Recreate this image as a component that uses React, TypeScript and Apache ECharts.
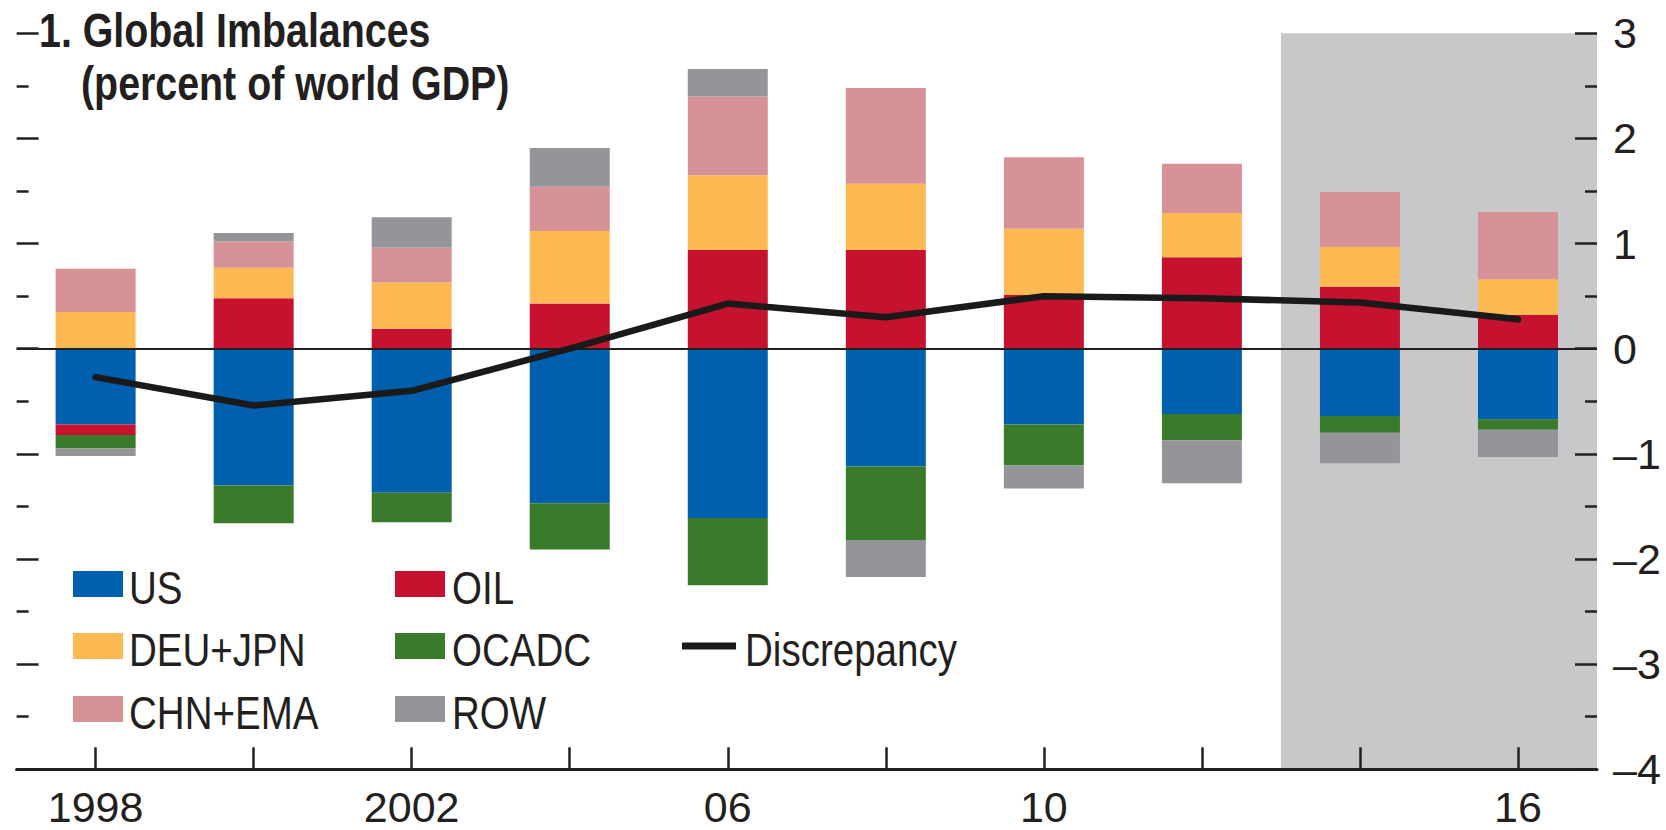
import React, { useEffect, useRef } from "react";
import * as echarts from "echarts";

// ---- data (percent of world GDP) ----
const years = ["1998", "2000", "2002", "2004", "2006", "2008", "2010", "2012", "2014", "2016"];
const yearLabels = ["1998", "", "2002", "", "06", "", "10", "", "", "16"];
const projectionFirstYear = "2014";

const us = [-0.72, -1.3, -1.37, -1.47, -1.61, -1.12, -0.72, -0.62, -0.64, -0.67];
const oil = [-0.1, 0.48, 0.19, 0.43, 0.94, 0.94, 0.51, 0.87, 0.59, 0.32];
const deuJpn = [0.35, 0.29, 0.44, 0.69, 0.71, 0.63, 0.63, 0.42, 0.38, 0.34];
const ocadc = [-0.13, -0.36, -0.28, -0.44, -0.64, -0.7, -0.39, -0.25, -0.16, -0.1];
const chnEma = [0.41, 0.25, 0.33, 0.42, 0.75, 0.91, 0.68, 0.47, 0.52, 0.64];
const row = [-0.07, 0.08, 0.29, 0.37, 0.26, -0.35, -0.22, -0.41, -0.29, -0.26];
const discrepancy = [-0.27, -0.54, -0.4, 0.0, 0.43, 0.3, 0.5, 0.48, 0.44, 0.28];

const yMin = -4;
const yMax = 3;
const yStep = 1;

const titleLine1 = "1. Global Imbalances";
const titleLine2 = "(percent of world GDP)";

// legend order as laid out: [name, column, row]
const legendLayout: [string, number, number][] = [
  ["US", 0, 0],
  ["OIL", 1, 0],
  ["DEU+JPN", 0, 1],
  ["OCADC", 1, 1],
  ["Discrepancy", 2, 1],
  ["CHN+EMA", 0, 2],
  ["ROW", 1, 2],
];

// ---- styles ----
const INK = "#231f20";
const SANS = "'Liberation Sans', Arial, Helvetica, sans-serif";
const CONDENSE = 0.82;

const COLORS: Record<string, string> = {
  US: "#0060ae",
  OIL: "#c5122f",
  "DEU+JPN": "#fdba53",
  OCADC: "#3a7b2b",
  "CHN+EMA": "#d69297",
  ROW: "#939598",
  Discrepancy: "#1a1a1a",
};

const barSeries: [string, number[]][] = [
  ["US", us],
  ["OIL", oil],
  ["DEU+JPN", deuJpn],
  ["OCADC", ocadc],
  ["CHN+EMA", chnEma],
  ["ROW", row],
];

export default function App() {
  const ref = useRef<HTMLDivElement>(null);

  useEffect(() => {
    if (!ref.current) return;
    const chart = echarts.init(ref.current, null, { renderer: "svg" });

    const tickStyle = { color: INK, width: 2.5 };

    // legend drawn as graphic swatches + condensed text
    const rowY = [584, 646, 709];
    const swatchX = [73, 395, 682];
    const textX = [129, 452, 745];
    const legendElements: any[] = [];
    legendLayout.forEach(([name, c, r]) => {
      const isLine = name === "Discrepancy";
      const w = isLine ? 54 : 50;
      const h = isLine ? 7 : 26;
      legendElements.push({
        type: "rect",
        silent: true,
        shape: { x: swatchX[c], y: rowY[r] - h / 2, width: w, height: h },
        style: { fill: COLORS[name] },
      });
      legendElements.push({
        type: "text",
        silent: true,
        x: textX[c],
        y: rowY[r] + 4,
        scaleX: CONDENSE,
        style: {
          text: name,
          fill: INK,
          fontFamily: SANS,
          fontSize: 47,
          align: "left",
          verticalAlign: "middle",
        },
      });
    });

    const titleStyle = {
      fill: INK,
      fontFamily: SANS,
      fontWeight: "bold",
      fontSize: 48,
      align: "left",
      verticalAlign: "middle",
    };
    const titleElements = [
      { type: "text", silent: true, x: 39, y: 30, scaleX: CONDENSE, style: { text: titleLine1, ...titleStyle } },
      { type: "text", silent: true, x: 81, y: 83, scaleX: CONDENSE, style: { text: titleLine2, ...titleStyle } },
    ];

    const projFrom = years.indexOf(projectionFirstYear) - 0.5;
    const projTo = years.length - 0.5;

    const option: any = {
      animation: false,
      backgroundColor: "#ffffff",
      graphic: { elements: [...titleElements, ...legendElements] },
      grid: {
        left: 16.6,
        right: 69,
        top: 33.3,
        bottom: 60.7,
        containLabel: false,
        outerBoundsMode: "none",
      },
      xAxis: [
        {
          type: "category",
          data: years,
          boundaryGap: true,
          z: 10,
          axisLine: { show: true, onZero: false, lineStyle: { color: INK, width: 3 } },
          axisTick: {
            show: true,
            inside: true,
            length: 22,
            alignWithLabel: true,
            interval: 0,
            lineStyle: tickStyle,
          },
          axisLabel: {
            show: true,
            interval: 0,
            margin: 16,
            hideOverlap: false,
            formatter: (_v: string, i: number) => yearLabels[i],
            fontFamily: SANS,
            fontSize: 43,
            color: INK,
          },
          splitLine: { show: false },
        },
        {
          type: "value",
          min: -0.5,
          max: years.length - 0.5,
          show: false,
          axisLine: { onZero: false },
        },
      ],
      yAxis: [
        {
          type: "value",
          position: "left",
          min: yMin,
          max: yMax,
          interval: yStep,
          z: 10,
          axisLine: { show: false, onZero: false },
          axisTick: { show: true, inside: true, length: 22, lineStyle: tickStyle },
          minorTick: { show: true, splitNumber: 2, length: 12, lineStyle: tickStyle },
          axisLabel: { show: false },
          splitLine: { show: false },
          minorSplitLine: { show: false },
        },
        {
          type: "value",
          position: "right",
          min: yMin,
          max: yMax,
          interval: yStep,
          z: 10,
          axisLine: { show: false, onZero: false },
          axisTick: { show: true, inside: true, length: 22, lineStyle: tickStyle },
          minorTick: { show: true, splitNumber: 2, length: 12, lineStyle: tickStyle },
          axisLabel: {
            show: true,
            margin: 16,
            formatter: (v: number) => String(v).replace("-", "\u2013"),
            fontFamily: SANS,
            fontSize: 43,
            color: INK,
          },
          splitLine: { show: false },
          minorSplitLine: { show: false },
        },
      ],
      series: [
        {
          name: "projection",
          type: "line",
          xAxisIndex: 1,
          yAxisIndex: 0,
          data: [],
          silent: true,
          markArea: {
            silent: true,
            z: 1,
            itemStyle: { color: "#c8c8ca" },
            label: { show: false },
            data: [[{ xAxis: projFrom }, { xAxis: projTo }]],
          },
        },
        ...barSeries.map(([name, data]) => ({
          name,
          type: "bar",
          stack: "total",
          xAxisIndex: 0,
          yAxisIndex: 0,
          barWidth: 80,
          data,
          itemStyle: { color: COLORS[name] },
          emphasis: { disabled: true },
        })),
        {
          name: "Discrepancy",
          type: "line",
          xAxisIndex: 0,
          yAxisIndex: 0,
          data: discrepancy,
          symbol: "none",
          z: 6,
          lineStyle: { color: COLORS.Discrepancy, width: 6.5, cap: "round", join: "round" },
          itemStyle: { color: COLORS.Discrepancy },
          emphasis: { disabled: true },
          markLine: {
            silent: true,
            symbol: "none",
            z: 5,
            label: { show: false },
            lineStyle: { color: INK, width: 2, type: "solid" },
            data: [{ yAxis: 0 }],
          },
        },
      ],
    };

    chart.setOption(option);
    return () => chart.dispose();
  }, []);

  return (
    <div
      ref={ref}
      style={{ position: "fixed", left: 0, top: 0, width: 1666, height: 830, background: "#fff" }}
    />
  );
}
